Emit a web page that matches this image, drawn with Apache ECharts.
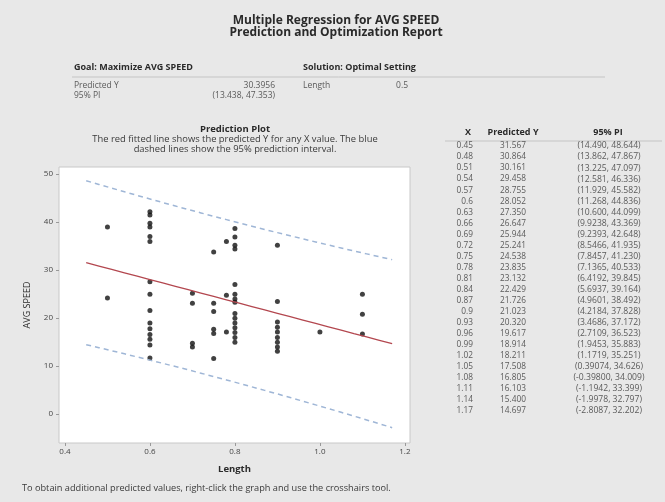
<!DOCTYPE html>
<html>
<head>
<meta charset="utf-8">
<script src="https://cdn.jsdelivr.net/npm/echarts@6/dist/echarts.min.js"></script>
<style>
  html, body { margin: 0; padding: 0; background: #e8e8e8; }
  #main { width: 665px; height: 502px; }
</style>
</head>
<body>
<div id="main"></div>
<script>
// observed data (Length, AVG SPEED)
var lengthX = [0.5, 0.5,
  0.6, 0.6, 0.6, 0.6, 0.6, 0.6, 0.6, 0.6, 0.6, 0.6, 0.6, 0.6, 0.6, 0.6, 0.6,
  0.7, 0.7, 0.7, 0.7,
  0.75, 0.75, 0.75, 0.75, 0.75, 0.75,
  0.78, 0.78, 0.78,
  0.8, 0.8, 0.8, 0.8, 0.8, 0.8, 0.8, 0.8, 0.8, 0.8, 0.8, 0.8, 0.8, 0.8, 0.8,
  0.9, 0.9, 0.9, 0.9, 0.9, 0.9, 0.9, 0.9, 0.9,
  1.0,
  1.1, 1.1, 1.1];
var avgSpeed = [39, 24.2,
  42.2, 41.5, 39.8, 39, 37, 36, 27.6, 25, 21.6, 19, 17.8, 16.6, 15.6, 14.4, 11.7,
  25.2, 23.1, 14.8, 14,
  33.8, 23.1, 21.4, 17.7, 16.8, 11.6,
  36, 24.8, 17.1,
  38.7, 36.9, 35.2, 34.4, 27, 25, 24, 23.3, 21, 20, 19, 18, 17, 16, 15,
  35.2, 23.5, 19.2, 18.1, 17.1, 16, 15, 14, 13.1,
  17.1,
  25, 20.8, 16.7];

// prediction table
var tableX = [0.45, 0.48, 0.51, 0.54, 0.57, 0.6, 0.63, 0.66, 0.69, 0.72, 0.75, 0.78, 0.81,
  0.84, 0.87, 0.9, 0.93, 0.96, 0.99, 1.02, 1.05, 1.08, 1.11, 1.14, 1.17];
var predY = [31.567, 30.864, 30.161, 29.458, 28.755, 28.052, 27.350, 26.647, 25.944, 25.241,
  24.538, 23.835, 23.132, 22.429, 21.726, 21.023, 20.320, 19.617, 18.914, 18.211,
  17.508, 16.805, 16.103, 15.400, 14.697];
var piLow = [14.490, 13.862, 13.225, 12.581, 11.929, 11.268, 10.600, 9.9238, 9.2393, 8.5466,
  7.8457, 7.1365, 6.4192, 5.6937, 4.9601, 4.2184, 3.4686, 2.7109, 1.9453, 1.1719,
  0.39074, -0.39800, -1.1942, -1.9978, -2.8087];
var piHigh = [48.644, 47.867, 47.097, 46.336, 45.582, 44.836, 44.099, 43.369, 42.648, 41.935,
  41.230, 40.533, 39.845, 39.164, 38.492, 37.828, 37.172, 36.523, 35.883, 35.251,
  34.626, 34.009, 33.399, 32.797, 32.202];

var xTicks = [0.4, 0.6, 0.8, 1.0, 1.2];
var yTicks = [0, 10, 20, 30, 40, 50];

// optimal setting summary
var optPredicted = '30.3956';
var optPI = '(13.438, 47.353)';
var optLength = '0.5';

var FONT = '"Open Sans", "Noto Sans", sans-serif';
var dark = '#2a2a2a';
var grey = '#5a5a5a';

function txt(x, y, s, opt) {
    opt = opt || {};
    return {
        type: 'text', x: x, y: y, silent: true,
        style: {
            text: s,
            fontFamily: FONT,
            fontSize: opt.size || 9,
            fontWeight: opt.bold ? 'bold' : 'normal',
            fill: opt.color || grey,
            align: opt.align || 'left',
            verticalAlign: 'middle'
        }
    };
}

var chartDom = document.getElementById('main');
var myChart = echarts.init(chartDom);

var points = [];
for (var i = 0; i < lengthX.length; i++) points.push([lengthX[i], avgSpeed[i]]);
var fitLine = [], upLine = [], lowLine = [];
for (var j = 0; j < tableX.length; j++) {
    fitLine.push([tableX[j], predY[j]]);
    upLine.push([tableX[j], piHigh[j]]);
    lowLine.push([tableX[j], piLow[j]]);
}

var graphics = [
    txt(336, 21, 'Multiple Regression for AVG SPEED', { size: 12, bold: true, color: dark, align: 'center' }),
    txt(336, 33, 'Prediction and Optimization Report', { size: 12, bold: true, color: dark, align: 'center' }),
    txt(74, 67, 'Goal: Maximize AVG SPEED', { size: 9, bold: true, color: dark }),
    txt(303, 67, 'Solution: Optimal Setting', { size: 9, bold: true, color: dark }),
    { type: 'line', silent: true, shape: { x1: 72, y1: 77, x2: 605, y2: 77 }, style: { stroke: '#c4c4c4', lineWidth: 1 } },
    txt(74, 86, 'Predicted Y', { size: 8.5 }),
    txt(275, 86, optPredicted, { size: 8.5, align: 'right' }),
    txt(74, 96, '95% PI', { size: 8.5 }),
    txt(275, 96, optPI, { size: 8.5, align: 'right' }),
    txt(303, 86, 'Length', { size: 8.5 }),
    txt(408, 86, optLength, { size: 8.5, align: 'right' }),
    txt(235, 129, 'Prediction Plot', { size: 9.5, bold: true, color: dark, align: 'center' }),
    txt(235, 139, 'The red fitted line shows the predicted Y for any X value. The blue', { size: 9.4, color: '#3a3a3a', align: 'center' }),
    txt(235, 149, 'dashed lines show the 95% prediction interval.', { size: 9.4, color: '#3a3a3a', align: 'center' }),
    txt(22, 488, 'To obtain additional predicted values, right-click the graph and use the crosshairs tool.', { size: 9.2, color: '#3a3a3a' }),
    // table header
    txt(468, 132, 'X', { size: 9, bold: true, color: dark, align: 'center' }),
    txt(513, 132, 'Predicted Y', { size: 9, bold: true, color: dark, align: 'center' }),
    txt(608, 132, '95% PI', { size: 9, bold: true, color: dark, align: 'center' }),
    { type: 'line', silent: true, shape: { x1: 445, y1: 141, x2: 662, y2: 141 }, style: { stroke: '#c4c4c4', lineWidth: 1 } }
];
for (var k = 0; k < tableX.length; k++) {
    var ry = 146 + k * 11.04;
    graphics.push(txt(473, ry, String(tableX[k]), { size: 8.3, align: 'right' }));
    graphics.push(txt(513, ry, predY[k].toPrecision(5), { size: 8.3, align: 'center' }));
    graphics.push(txt(609, ry, '(' + piLow[k].toPrecision(5) + ', ' + piHigh[k].toPrecision(5) + ')', { size: 8.6, align: 'center' }));
}

var option = {
    backgroundColor: '#e8e8e8',
    animation: false,
    textStyle: { fontFamily: FONT },
    graphic: graphics,
    grid: {
        left: 59, top: 167, width: 351, height: 276,
        show: true, backgroundColor: '#ffffff', borderColor: '#c8c8c8', borderWidth: 1
    },
    xAxis: {
        type: 'value', min: 0.386, max: 1.212,
        name: 'Length', nameLocation: 'middle', nameGap: 21,
        nameTextStyle: { fontFamily: FONT, fontSize: 9.5, fontWeight: 'bold', color: dark },
        axisLine: { show: false, onZero: false },
        splitLine: { show: false },
        axisTick: { show: true, customValues: xTicks, length: 3, lineStyle: { color: '#999' } },
        axisLabel: {
            customValues: xTicks, margin: 5, fontSize: 8, color: '#444',
            formatter: function (v) { return v.toFixed(1); }
        }
    },
    yAxis: {
        type: 'value', min: -6, max: 51.5,
        name: 'AVG SPEED', nameLocation: 'middle', nameGap: 27,
        nameTextStyle: { fontFamily: FONT, fontSize: 9, color: dark },
        axisLine: { show: false, onZero: false },
        splitLine: { show: false },
        axisTick: { show: true, customValues: yTicks, length: 3, lineStyle: { color: '#999' } },
        axisLabel: { customValues: yTicks, margin: 6, fontSize: 8, color: '#444' }
    },
    series: [
        {
            type: 'line', data: upLine, symbol: 'none', silent: true,
            lineStyle: { color: '#9fb6d6', width: 1.5, type: [5, 4] }
        },
        {
            type: 'line', data: lowLine, symbol: 'none', silent: true,
            lineStyle: { color: '#9fb6d6', width: 1.5, type: [5, 4] }
        },
        {
            type: 'line', data: fitLine, symbol: 'none', silent: true,
            lineStyle: { color: '#b3474f', width: 1.3 }
        },
        {
            type: 'scatter', data: points, symbol: 'circle', symbolSize: 5,
            itemStyle: { color: '#111111' }
        }
    ]
};

option && myChart.setOption(option);
</script>
</body>
</html>
